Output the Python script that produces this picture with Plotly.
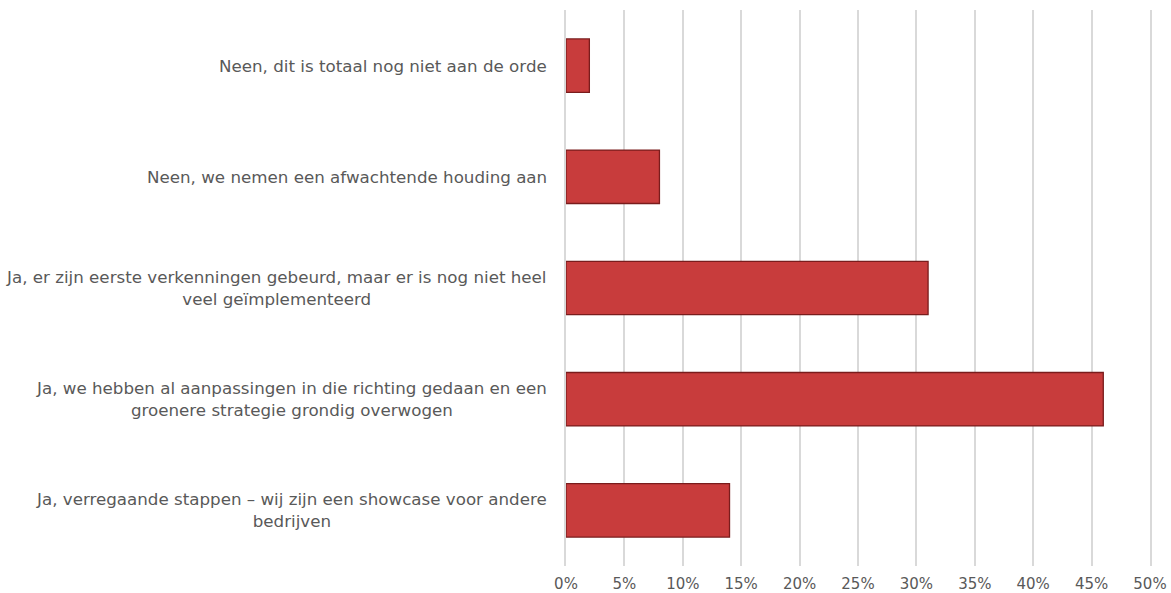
import plotly.graph_objects as go

categories = [
    "Neen, dit is totaal nog niet aan de orde",
    "Neen, we nemen een afwachtende houding aan",
    "Ja, er zijn eerste verkenningen gebeurd, maar er is nog niet heel<br>veel geïmplementeerd",
    "Ja, we hebben al aanpassingen in die richting gedaan en een<br>groenere strategie grondig overwogen",
    "Ja, verregaande stappen – wij zijn een showcase voor andere<br>bedrijven",
]
values = [2, 8, 31, 46, 14]
tick_vals = list(range(0, 51, 5))
tick_text = [f"{v}%" for v in tick_vals]

FONT = "DejaVu Sans"
GRAY = "#595959"

fig = go.Figure()
fig.add_trace(go.Bar(
    y=categories, x=values, orientation="h", width=0.48,
    marker=dict(color="#c83c3c", line=dict(color="#7a1c1c", width=1.3)),
    hoverinfo="skip",
))

for c in categories:
    fig.add_annotation(
        x=0, y=c, xref="paper", yref="y", text=c, showarrow=False,
        xanchor="right", yanchor="middle", align="center", xshift=-17,
        font=dict(family=FONT, size=16.7, color=GRAY),
    )

fig.update_layout(
    width=1171, height=593,
    margin=dict(l=566, r=21, t=10, b=27, autoexpand=False),
    plot_bgcolor="white", paper_bgcolor="white",
    showlegend=False,
    font=dict(family=FONT, color=GRAY, size=15),
    xaxis=dict(range=[0, 50], tickvals=tick_vals, ticktext=tick_text,
               showgrid=True, gridcolor="#d9d9d9", gridwidth=1.5,
               zeroline=False, showline=False,
               ticks="outside", ticklen=4, tickcolor="rgba(0,0,0,0)",
               automargin=False,
               tickfont=dict(family=FONT, size=15, color=GRAY)),
    yaxis=dict(categoryorder="array", categoryarray=categories,
               autorange="reversed", showticklabels=False,
               showgrid=False, zeroline=False, automargin=False,
               showline=True, mirror=True, linecolor="#d9d9d9", linewidth=1.5),
)
fig.write_html("out.html")
